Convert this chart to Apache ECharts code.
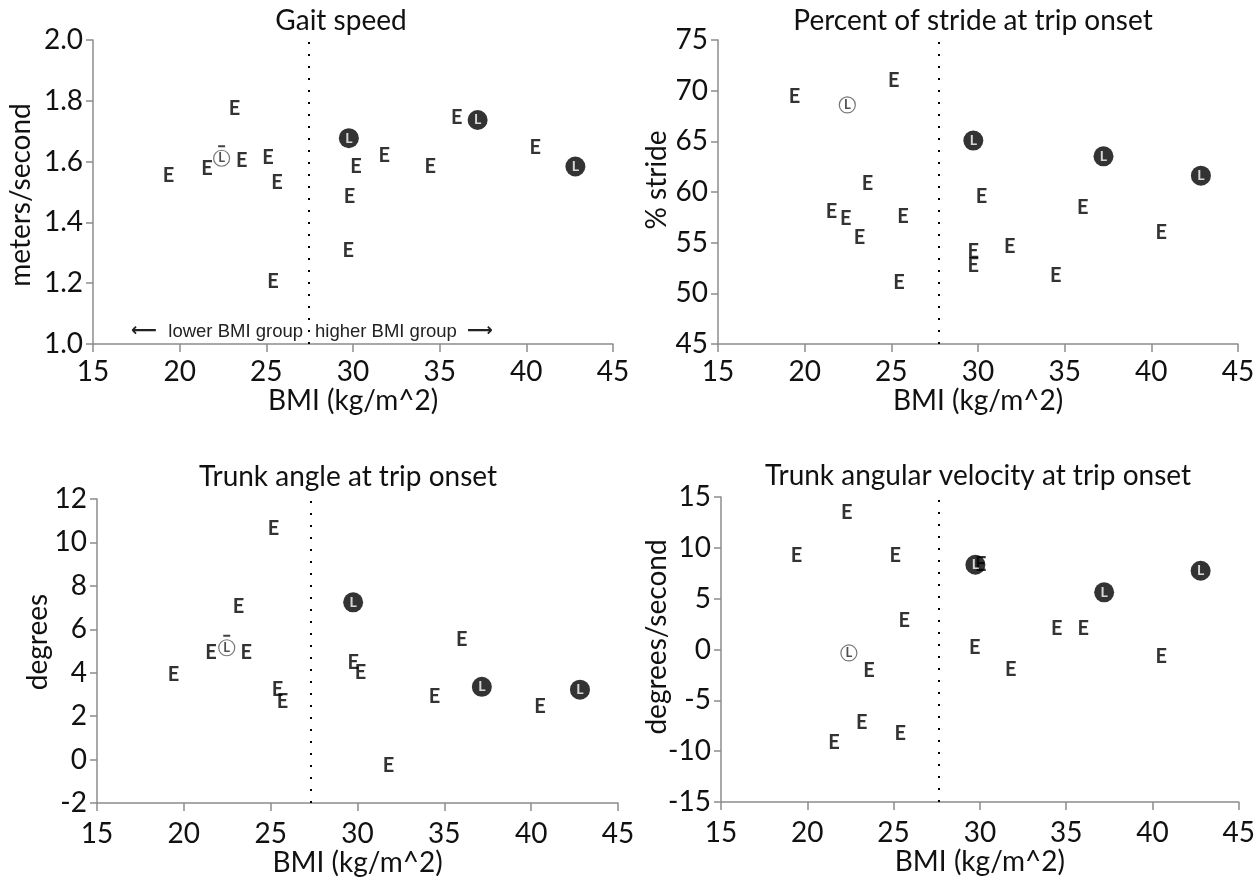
<!DOCTYPE html>
<html><head><meta charset="utf-8">
<script src="https://cdn.jsdelivr.net/npm/echarts@6/dist/echarts.min.js"></script>
<style>html,body{margin:0;padding:0;background:#fff}#c{width:1258px;height:880px}</style>
</head><body><div id="c"></div>
<script>
// ---- data ----
const panelTitles = ['Gait speed', 'Percent of stride at trip onset', 'Trunk angle at trip onset', 'Trunk angular velocity at trip onset'];
const yNames = ['meters/second', '% stride', 'degrees', 'degrees/second'];
const xName = 'BMI (kg/m^2)';
const xTicks = [15, 20, 25, 30, 35, 40, 45];
const yTicksGait = [1.0, 1.2, 1.4, 1.6, 1.8, 2.0];
const yTicksStride = [45, 50, 55, 60, 65, 70, 75];
const yTicksAngle = [-2, 0, 2, 4, 6, 8, 10, 12];
const yTicksVel = [-15, -10, -5, 0, 5, 10, 15];
const groupDivider = [27.45, 27.75, 27.3, 27.6];
const groupNotes = ['lower BMI group', 'higher BMI group'];
const overbarPanels = [true, false, true, false];

// [BMI, value] pairs; E markers, open L (lower BMI group), filled L (higher BMI group)
const gaitE = [[19.36,1.554],[21.57,1.576],[23.16,1.776],[23.58,1.602],[25.1,1.612],[25.62,1.532],[25.38,1.207],[30.17,1.584],[29.8,1.486],[29.73,1.307],[31.81,1.620],[34.46,1.584],[35.98,1.746],[40.52,1.647]];
const gaitLopen = [[22.42,1.611]];
const gaitLfill = [[29.76,1.677],[37.19,1.737],[42.83,1.584]];

const strideE = [[19.41,69.41],[21.55,58.06],[22.37,57.34],[23.16,55.53],[23.62,60.86],[25.14,70.99],[25.44,51.09],[25.68,57.57],[29.73,54.14],[29.73,52.73],[30.2,59.57],[31.83,54.61],[34.49,51.74],[36.05,58.42],[40.57,56.02]];
const strideLopen = [[22.46,68.59]];
const strideLfill = [[29.73,65.07],[37.24,63.52],[42.86,61.61]];

const angleE = [[19.4,3.92],[21.56,4.93],[23.15,7.04],[23.59,4.93],[25.17,10.65],[25.4,3.24],[25.68,2.66],[29.75,4.45],[30.17,3.99],[31.78,-0.26],[34.43,2.92],[36.01,5.53],[40.51,2.43]];
const angleLopen = [[22.47,5.15]];
const angleLfill = [[29.75,7.24],[37.16,3.35],[42.81,3.22]];

const velE = [[19.38,9.26],[21.55,-9.2],[22.29,13.49],[23.15,-7.23],[23.57,-2.08],[25.09,9.26],[25.39,-8.31],[25.62,2.84],[29.7,0.15],[30.05,8.4],[31.79,-1.98],[34.45,2.05],[35.99,2.05],[40.51,-0.67]];
const velLopen = [[22.41,-0.34]];
const velLfill = [[29.74,8.34],[37.2,5.62],[42.79,7.75]];

// ---- chart ----
const panels = [
  {E: gaitE, Lo: gaitLopen, Lf: gaitLfill, ticks: yTicksGait, dec: 1},
  {E: strideE, Lo: strideLopen, Lf: strideLfill, ticks: yTicksStride, dec: 0},
  {E: angleE, Lo: angleLopen, Lf: angleLfill, ticks: yTicksAngle, dec: 0},
  {E: velE, Lo: velLopen, Lf: velLfill, ticks: yTicksVel, dec: 0}
];
const grids = [
  {left: 93, top: 40, width: 520, height: 304},
  {left: 718, top: 40, width: 520, height: 304},
  {left: 97, top: 499, width: 521, height: 304},
  {left: 721, top: 497, width: 520, height: 305}
];
const FONT = 'Lato';
const axisColor = '#8c8c8c';
const labelFont = {fontFamily: FONT, fontSize: 28, color: '#111'};

const xAxes = [], yAxes = [], series = [];
panels.forEach((p, i) => {
  const yt = p.ticks;
  xAxes.push({
    type: 'value', gridIndex: i, min: xTicks[0], max: xTicks[xTicks.length - 1], interval: xTicks[1] - xTicks[0],
    name: xName, nameLocation: 'middle', nameGap: i < 2 ? 39 : 35,
    nameTextStyle: {fontFamily: FONT, fontSize: 28, color: '#111'},
    axisLine: {show: true, onZero: false, lineStyle: {color: axisColor, width: 1.5}},
    axisTick: {show: true, length: 8, lineStyle: {color: axisColor, width: 1.5}},
    axisLabel: Object.assign({margin: i < 2 ? 14 : 17}, labelFont),
    splitLine: {show: false}
  });
  yAxes.push({
    type: 'value', gridIndex: i, min: yt[0], max: yt[yt.length - 1], interval: +(yt[1] - yt[0]).toFixed(4),
    axisLine: {show: true, onZero: false, lineStyle: {color: axisColor, width: 1.5}},
    axisTick: {show: true, length: 7, lineStyle: {color: axisColor, width: 1.5}},
    axisLabel: Object.assign({margin: 10, formatter: v => v.toFixed(p.dec)}, labelFont),
    splitLine: {show: false}
  });
  series.push({
    type: 'scatter', xAxisIndex: i, yAxisIndex: i, data: p.E, z: 2,
    symbol: 'rect', symbolSize: 1, itemStyle: {color: 'rgba(0,0,0,0)'},
    label: {show: true, position: 'inside', formatter: 'E', fontFamily: FONT, fontWeight: 'bold', fontSize: 20, color: '#000', textBorderWidth: 0},
    markLine: {
      silent: true, symbol: 'none', animation: false,
      label: {show: false},
      lineStyle: {type: [2, 10], color: '#000', width: 2, cap: 'butt'},
      data: [{xAxis: groupDivider[i]}]
    }
  });
  if (overbarPanels[i]) {
    series.push({
      type: 'scatter', xAxisIndex: i, yAxisIndex: i, data: p.Lo, zlevel: 1, z: 3,
      symbol: 'rect', symbolSize: [7, 2], symbolOffset: [0, -12],
      itemStyle: {color: '#111'}
    });
  }
  series.push({
    type: 'scatter', xAxisIndex: i, yAxisIndex: i, data: p.Lo, zlevel: 1, z: 3,
    symbol: 'circle', symbolSize: 16,
    itemStyle: {color: '#fff', borderColor: '#555', borderWidth: 1.2},
    label: {show: true, position: 'inside', formatter: 'L', fontFamily: FONT, fontWeight: 'bold', fontSize: 13, color: '#222'}
  });
  series.push({
    type: 'scatter', xAxisIndex: i, yAxisIndex: i, data: p.Lf, zlevel: 1, z: 3,
    symbol: 'circle', symbolSize: 20,
    itemStyle: {color: '#000'},
    label: {show: true, position: 'inside', formatter: 'L', fontFamily: FONT, fontWeight: 'bold', fontSize: 14, color: '#fff'}
  });
});

const titlePos = [[341, 21], [973, 21], [348, 477], [978, 476]];
const yNamePos = [[21, 195], [657, 180], [38, 642], [657, 637]];
const graphic = [];
panelTitles.forEach((t, i) => {
  graphic.push({type: 'text', x: titlePos[i][0], y: titlePos[i][1], silent: true,
    style: {text: t, fontFamily: FONT, fontSize: 28, fill: '#111', align: 'center', verticalAlign: 'middle'}});
  graphic.push({type: 'text', x: yNamePos[i][0], y: yNamePos[i][1], rotation: Math.PI / 2, silent: true,
    style: {text: yNames[i], fontFamily: FONT, fontSize: 28, fill: '#111', align: 'center', verticalAlign: 'middle'}});
});
const noteFont = {fontFamily: 'Liberation Sans', fontSize: 18.5, fill: '#222', verticalAlign: 'middle'};
graphic.push({type: 'text', x: 303, y: 332, silent: true, style: Object.assign({}, noteFont, {text: groupNotes[0], align: 'right'})});
graphic.push({type: 'text', x: 315, y: 332, silent: true, style: Object.assign({}, noteFont, {text: groupNotes[1], align: 'left'})});
graphic.push({type: 'text', x: 144, y: 331, silent: true, style: Object.assign({}, noteFont, {text: '\u27F5', align: 'center', fontFamily: 'DejaVu Sans', fontSize: 18, fontWeight: 'bold'})});
graphic.push({type: 'text', x: 480, y: 331, silent: true, style: Object.assign({}, noteFont, {text: '\u27F6', align: 'center', fontFamily: 'DejaVu Sans', fontSize: 18, fontWeight: 'bold'})});

const chart = echarts.init(document.getElementById('c'), null, {renderer: 'canvas'});
chart.setOption({
  animation: false,
  backgroundColor: '#fff',
  grid: grids,
  xAxis: xAxes,
  yAxis: yAxes,
  series: series,
  graphic: graphic
});
</script>
</body></html>
